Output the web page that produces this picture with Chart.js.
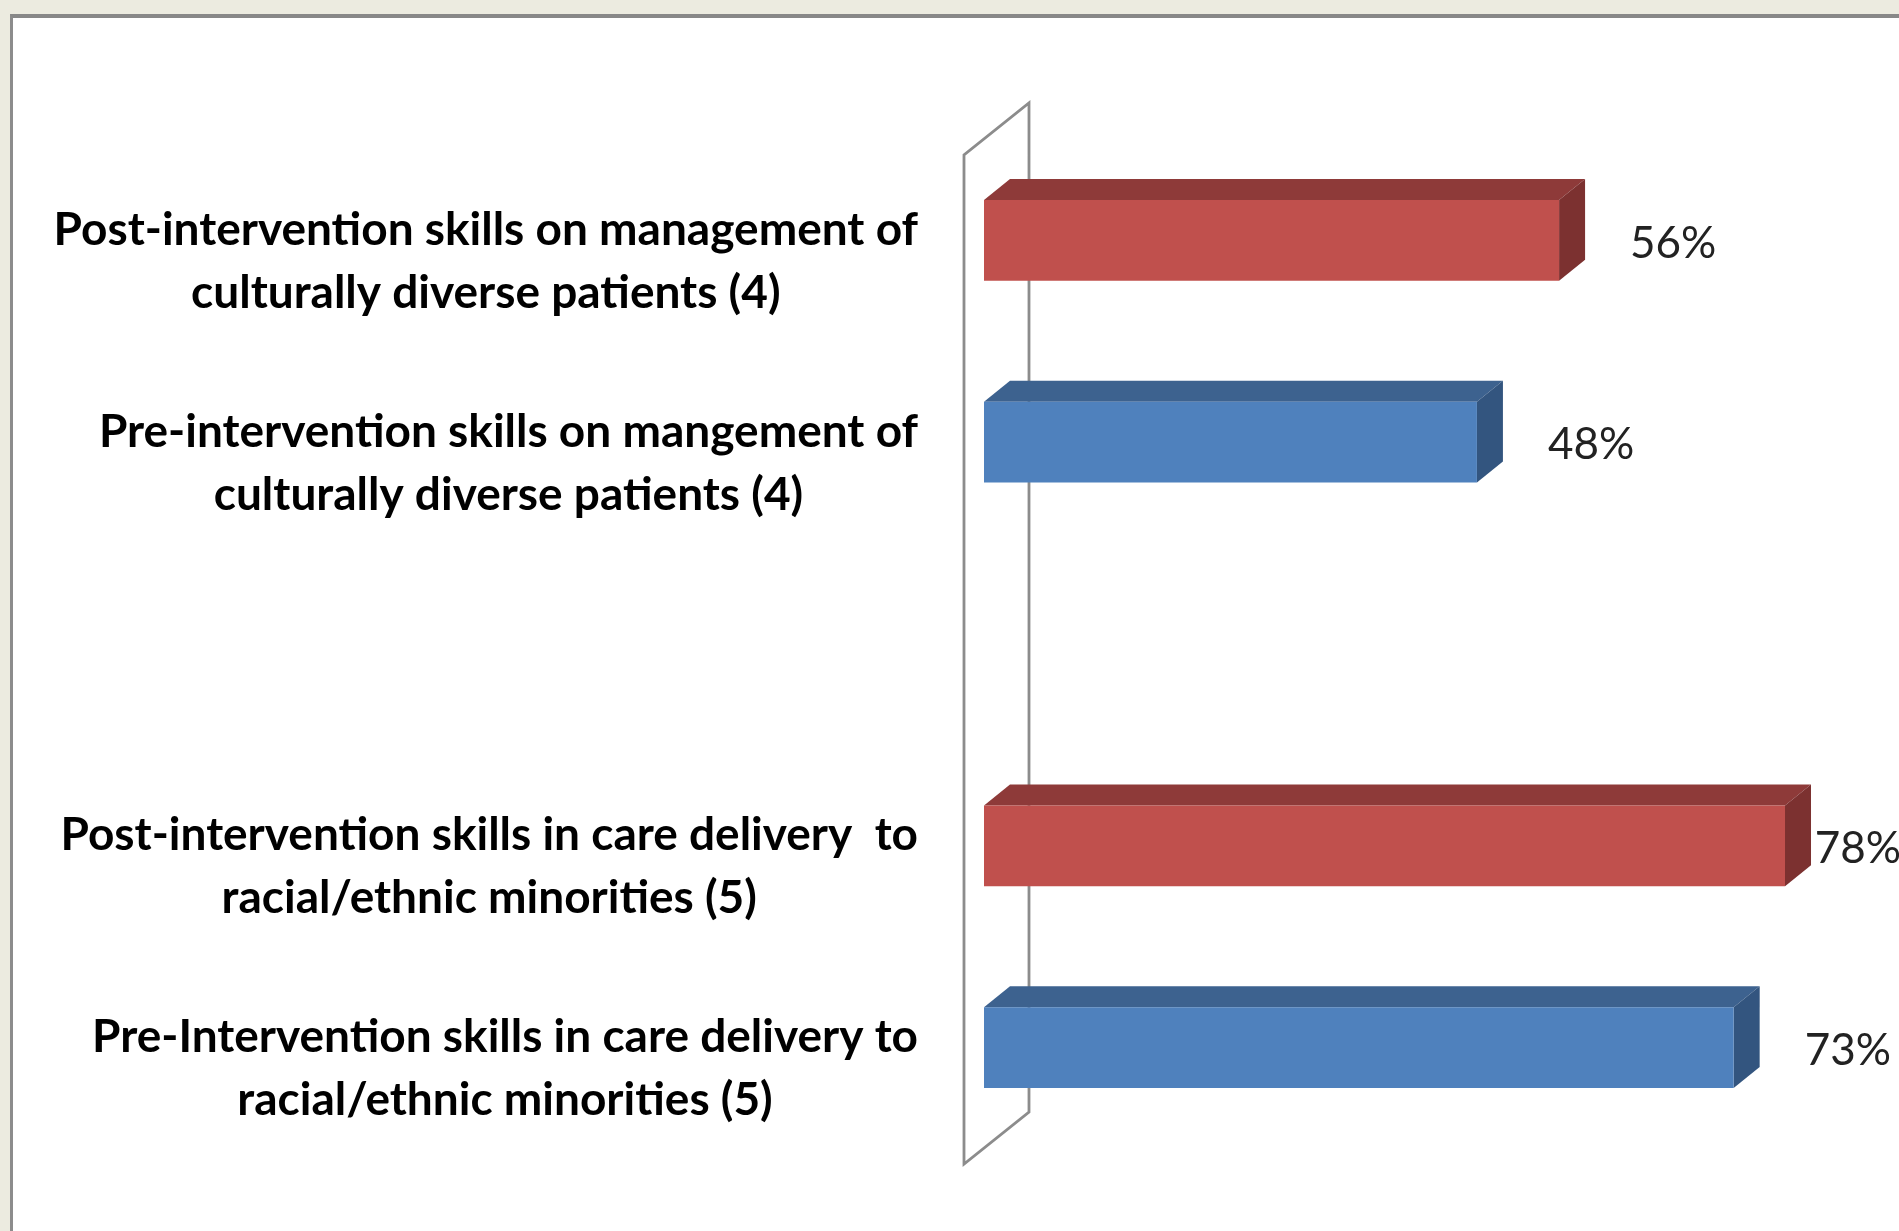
<!DOCTYPE html>
<html>
<head>
<meta charset="utf-8">
<script src="https://cdn.jsdelivr.net/npm/chart.js@4.4.1/dist/chart.umd.min.js"></script>
<style>
  html, body { margin: 0; padding: 0; background: #ecebe0; overflow: hidden; }
  .panel { position: absolute; left: 10px; top: 14px; right: 0; bottom: 0;
    background: #fff; border-top: 4px solid #888; border-left: 3px solid #8c8c8c; }
  canvas { position: absolute; left: 0; top: 0; }
</style>
</head>
<body>
<div class="panel"></div>
<canvas id="chart" width="1899" height="1231"></canvas>
<script>
// data
const categories = [
  ['Post-intervention skills on management of', 'culturally diverse patients (4)'],
  ['Pre-intervention skills on mangement of', 'culturally diverse patients (4)'],
  '',
  ['Post-intervention skills in care delivery  to', 'racial/ethnic minorities (5)'],
  ['Pre-Intervention skills in care delivery to', 'racial/ethnic minorities (5)']
];
const values = [56, 48, null, 78, 73];
const phase = ['post', 'pre', null, 'post', 'pre'];

const colors = {
  post: { front: '#c0504d', top: '#8e3a39', side: '#7c3130' },
  pre:  { front: '#4f81bd', top: '#3d628f', side: '#33557f' }
};
const depth = { dx: 26, dy: -21 };

// the 3d wall + the top/side faces of each bar
const box3d = {
  id: 'box3d',
  beforeDatasetsDraw(chart) {
    const ctx = chart.ctx;
    const area = chart.chartArea;
    const x0 = chart.scales.x.getPixelForValue(0);
    const top = area.top + 15.5, bottom = area.bottom + 15.5;
    const fx = x0 - 20, bx = x0 + 45, wd = -52;
    ctx.save();
    ctx.strokeStyle = '#8c8c8c';
    ctx.lineWidth = 2.8;
    ctx.beginPath();
    ctx.moveTo(fx, bottom);
    ctx.lineTo(fx, top);
    ctx.lineTo(bx, top + wd);
    ctx.lineTo(bx, bottom + wd);
    ctx.closePath();
    ctx.stroke();

    const meta = chart.getDatasetMeta(0);
    meta.data.forEach((bar, i) => {
      if (values[i] == null) return;
      const p = bar.getProps(['x', 'y', 'base', 'height'], true);
      const c = colors[phase[i]];
      const yt = p.y - p.height / 2, yb = p.y + p.height / 2;
      ctx.fillStyle = c.top;
      ctx.beginPath();
      ctx.moveTo(p.base, yt);
      ctx.lineTo(p.base + depth.dx, yt + depth.dy);
      ctx.lineTo(p.x + depth.dx, yt + depth.dy);
      ctx.lineTo(p.x, yt);
      ctx.closePath();
      ctx.fill();
      ctx.fillStyle = c.side;
      ctx.beginPath();
      ctx.moveTo(p.x, yt);
      ctx.lineTo(p.x + depth.dx, yt + depth.dy);
      ctx.lineTo(p.x + depth.dx, yb + depth.dy);
      ctx.lineTo(p.x, yb);
      ctx.closePath();
      ctx.fill();
    });
    ctx.restore();
  }
};

// category labels: block right aligned, lines centred inside the block
const catLabels = {
  id: 'catLabels',
  afterDraw(chart) {
    const ctx = chart.ctx;
    const ys = chart.scales.y;
    const right = chart.scales.x.getPixelForValue(0) - 66;
    const lh = 63;
    ctx.save();
    ctx.font = 'bold 46px Lato';
    ctx.fillStyle = '#000';
    ctx.textAlign = 'center';
    ctx.textBaseline = 'middle';
    categories.forEach((lab, i) => {
      if (!lab) return;
      const lines = Array.isArray(lab) ? lab : [lab];
      const w = Math.max(...lines.map(l => ctx.measureText(l).width));
      const cx = right - w / 2;
      const cy = ys.getPixelForValue(i) + 21;
      lines.forEach((l, k) => {
        ctx.fillText(l, cx, cy + (k - (lines.length - 1) / 2) * lh);
      });
    });
    ctx.restore();
  }
};

const valueLabels = {
  id: 'valueLabels',
  afterDraw(chart) {
    const ctx = chart.ctx;
    const meta = chart.getDatasetMeta(0);
    ctx.save();
    ctx.font = '44px Lato';
    ctx.fillStyle = '#222';
    ctx.textAlign = 'left';
    ctx.textBaseline = 'middle';
    meta.data.forEach((bar, i) => {
      if (values[i] == null) return;
      const txt = values[i] + '%';
      const w = ctx.measureText(txt).width;
      const x = Math.min(bar.x + 71, chart.width - w + 2);
      ctx.fillText(txt, x, bar.y + 3);
    });
    ctx.restore();
  }
};

new Chart(document.getElementById('chart'), {
  type: 'bar',
  data: {
    labels: categories,
    datasets: [{
      data: values,
      backgroundColor: phase.map(p => p ? colors[p].front : 'transparent'),
      borderWidth: 0,
      categoryPercentage: 1,
      barPercentage: 0.4
    }]
  },
  options: {
    indexAxis: 'y',
    responsive: false,
    animation: false,
    devicePixelRatio: 1,
    layout: { padding: { left: 984, right: 0, top: 139.5, bottom: 82.5 } },
    plugins: { legend: { display: false }, tooltip: { enabled: false } },
    scales: {
      x: { display: false, min: 0, max: 89.1 },
      y: { display: false }
    }
  },
  plugins: [box3d, catLabels, valueLabels]
});
</script>
</body>
</html>
